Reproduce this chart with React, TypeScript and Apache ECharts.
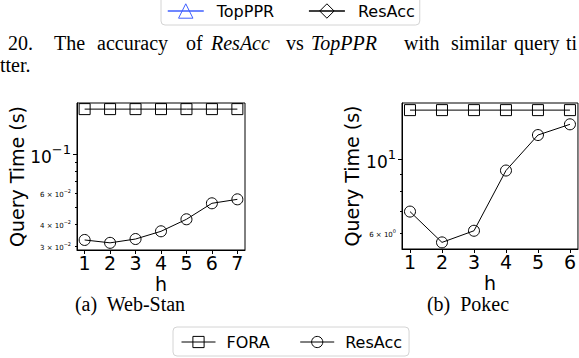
import React, { useEffect, useRef } from 'react';
import * as echarts from 'echarts';

// ---- data ----
const hWebStan = [1, 2, 3, 4, 5, 6, 7];
const webStanFORA = [0.18, 0.18, 0.18, 0.18, 0.18, 0.18, 0.18];
const webStanResAcc = [0.0325, 0.0313, 0.0329, 0.0364, 0.0426, 0.0525, 0.0553];

const hPokec = [1, 2, 3, 4, 5, 6];
const pokecFORA = [14.0, 14.0, 14.0, 14.0, 14.0, 14.0];
const pokecResAcc = [6.98, 5.65, 6.12, 9.25, 11.8, 12.7];

// tick labels
const webStanLabelValues = [0.03, 0.04, 0.06, 0.1];
const webStanLabelBases = ['3 × 10', '4 × 10', '6 × 10', '10'];
const webStanLabelExps = ['−2', '−2', '−2', '−1'];
const webStanMajor = [0.1];
const webStanMinor = [0.03, 0.04, 0.05, 0.06, 0.07, 0.08, 0.09];

const pokecLabelValues = [6, 10];
const pokecLabelBases = ['6 × 10', '10'];
const pokecLabelExps = ['0', '1'];
const pokecMajor = [10];
const pokecMinor = [6, 7, 8, 9];

const captionWords = [
  { t: '20.', x: 8, it: false },
  { t: 'The', x: 54, it: false },
  { t: 'accuracy', x: 97, it: false },
  { t: 'of', x: 186, it: false },
  { t: 'ResAcc', x: 211, it: true },
  { t: 'vs', x: 286, it: false },
  { t: 'TopPPR', x: 311, it: true },
  { t: 'with', x: 404, it: false },
  { t: 'similar', x: 451, it: false },
  { t: 'query', x: 514, it: false },
  { t: 'ti', x: 566, it: false },
];

const SANS = 'DejaVu Sans';
const SERIF = 'Liberation Serif';

function makeFormatter(values: number[], bases: string[], exps: string[], majorVals: number[]) {
  return (v: number) => {
    const i = values.findIndex((x) => Math.abs(x - v) / x < 1e-6);
    if (i < 0) return '';
    const major = majorVals.some((m) => Math.abs(m - v) / m < 1e-6);
    return major ? `{b|${bases[i]}}{bs|${exps[i]}}` : `{m|${bases[i]}}{ms|${exps[i]}}`;
  };
}

const richLabels = {
  b: { fontSize: 17, fontFamily: SANS, color: '#000', verticalAlign: 'bottom', lineHeight: 22 },
  bs: { fontSize: 13, fontFamily: SANS, color: '#000', verticalAlign: 'top', lineHeight: 22 },
  m: { fontSize: 7, fontFamily: SANS, color: '#000', verticalAlign: 'bottom', lineHeight: 10 },
  ms: { fontSize: 5, fontFamily: SANS, color: '#000', verticalAlign: 'top', lineHeight: 10 },
};

function majorY(gridIndex: number, min: number, max: number, labelVals: number[], bases: string[], exps: string[], majors: number[], nameGap: number) {
  return {
    type: 'log',
    logBase: 10,
    gridIndex,
    min,
    max,
    position: 'left',
    name: 'Query Time (s)',
    nameLocation: 'middle',
    nameGap,
    nameRotate: 90,
    nameTextStyle: { fontSize: 19, fontFamily: SANS, color: '#000' },
    axisLine: { show: true, lineStyle: { color: '#000', width: 1 } },
    axisTick: { show: true, customValues: majors, length: 4, lineStyle: { color: '#000' } },
    axisLabel: {
      show: true,
      customValues: labelVals,
      margin: 6,
      formatter: makeFormatter(labelVals, bases, exps, majors),
      rich: richLabels,
    },
    splitLine: { show: false },
    minorTick: { show: false },
  };
}

function minorY(gridIndex: number, min: number, max: number, minors: number[]) {
  return {
    type: 'log',
    logBase: 10,
    gridIndex,
    min,
    max,
    position: 'left',
    axisLine: { show: false },
    axisTick: { show: true, customValues: minors, length: 2, lineStyle: { color: '#000' } },
    axisLabel: { show: false },
    splitLine: { show: false },
  };
}

function xAxis(gridIndex: number, min: number, max: number, vals: number[]) {
  return {
    type: 'value',
    gridIndex,
    min,
    max,
    name: 'h',
    nameLocation: 'middle',
    nameGap: 24,
    nameTextStyle: { fontSize: 19, fontFamily: SANS, color: '#000' },
    axisLine: { show: true, onZero: false, lineStyle: { color: '#000', width: 1 } },
    axisTick: { show: true, customValues: vals, length: 4, lineStyle: { color: '#000' } },
    axisLabel: { show: true, customValues: vals, margin: 3, fontSize: 19, fontFamily: SANS, color: '#000' },
    splitLine: { show: false },
  };
}

const symStyle = {
  color: 'rgba(0,0,0,0)',
  borderColor: '#000',
  borderWidth: 1,
};

function lineSeries(name: string, xi: number, yi: number, xs: number[], ys: number[], symbol: string) {
  return {
    name,
    type: 'line',
    xAxisIndex: xi,
    yAxisIndex: yi,
    data: xs.map((x, i) => [x, ys[i]]),
    symbol,
    symbolSize: 11,
    showSymbol: true,
    lineStyle: { color: '#000', width: 1 },
    itemStyle: symStyle,
    z: 3,
  };
}

export default function App() {
  const ref = useRef<HTMLDivElement>(null);
  useEffect(() => {
    if (!ref.current) return;
    const chart = echarts.init(ref.current, undefined, { renderer: 'svg' });
    const option: any = {
      animation: false,
      backgroundColor: '#fff',
      grid: [
        { left: 77, top: 103, width: 168, height: 147, show: true, borderColor: '#000', borderWidth: 1, containLabel: false },
        { left: 402, top: 103, width: 180, height: 146, show: true, borderColor: '#000', borderWidth: 1, containLabel: false },
      ],
      xAxis: [xAxis(0, 0.7, 7.3, hWebStan), xAxis(1, 0.75, 6.25, hPokec)],
      yAxis: [
        majorY(0, 0.0285, 0.195, webStanLabelValues, webStanLabelBases, webStanLabelExps, webStanMajor, 51),
        minorY(0, 0.0285, 0.195, webStanMinor),
        majorY(1, 5.4, 14.7, pokecLabelValues, pokecLabelBases, pokecLabelExps, pokecMajor, 41),
        minorY(1, 5.4, 14.7, pokecMinor),
      ],
      legend: [
        {
          left: 161,
          top: -6,
          orient: 'horizontal',
          padding: [9, 5, 6, 6],
          itemGap: 34,
          itemWidth: 36,
          itemHeight: 18,
          borderColor: '#d4d4d4',
          borderWidth: 1,
          borderRadius: 4,
          backgroundColor: '#fff',
          textStyle: { fontSize: 16, fontFamily: SANS, color: '#000', padding: [0, 0, 0, 8] },
          formatter: (n: string) => (n === 'ResAcc-top' ? 'ResAcc' : n),
          selectedMode: false,
          data: [
            { name: 'TopPPR', itemStyle: { color: 'rgba(0,0,0,0)', borderColor: '#3f5fff', borderWidth: 1 }, lineStyle: { color: '#3f5fff', width: 1.5 } },
            { name: 'ResAcc-top', itemStyle: { color: 'rgba(0,0,0,0)', borderColor: '#000', borderWidth: 1 }, lineStyle: { color: '#000', width: 1.5 } },
          ],
        },
        {
          left: 173,
          top: 327,
          orient: 'horizontal',
          padding: [7, 7, 6, 8],
          itemGap: 30,
          itemWidth: 34,
          itemHeight: 14,
          borderColor: '#d4d4d4',
          borderWidth: 1,
          borderRadius: 4,
          backgroundColor: '#fff',
          textStyle: { fontSize: 16, fontFamily: SANS, color: '#000', padding: [0, 0, 0, 6] },
          selectedMode: false,
          data: [
            { name: 'FORA', itemStyle: { color: 'rgba(0,0,0,0)', borderColor: '#000', borderWidth: 1 }, lineStyle: { color: '#000', width: 1 } },
            { name: 'ResAcc', itemStyle: { color: 'rgba(0,0,0,0)', borderColor: '#000', borderWidth: 1 }, lineStyle: { color: '#000', width: 1 } },
          ],
        },
      ],
      series: [
        lineSeries('FORA', 0, 0, hWebStan, webStanFORA, 'rect'),
        lineSeries('ResAcc', 0, 0, hWebStan, webStanResAcc, 'circle'),
        lineSeries('FORA', 1, 2, hPokec, pokecFORA, 'rect'),
        lineSeries('ResAcc', 1, 2, hPokec, pokecResAcc, 'circle'),
        { name: 'TopPPR', type: 'line', xAxisIndex: 0, yAxisIndex: 0, data: [], symbol: 'triangle', lineStyle: { color: '#3f5fff' }, itemStyle: { color: 'rgba(0,0,0,0)', borderColor: '#3f5fff' } },
        { name: 'ResAcc-top', type: 'line', xAxisIndex: 0, yAxisIndex: 0, data: [], symbol: 'diamond', lineStyle: { color: '#000' }, itemStyle: { color: 'rgba(0,0,0,0)', borderColor: '#000' } },
      ],
      graphic: [
        ...captionWords.map((w) => ({
          type: 'text',
          x: w.x,
          y: 43,
          style: {
            text: w.t,
            font: `${w.it ? 'italic ' : ''}20px "${SERIF}"`,
            fill: '#000',
            verticalAlign: 'middle',
            align: 'left',
          },
        })),
        {
          type: 'text',
          x: 0,
          y: 65,
          style: { text: 'tter.', font: `20px "${SERIF}"`, fill: '#000', verticalAlign: 'middle', align: 'left' },
        },
        {
          type: 'text',
          x: 130,
          y: 304,
          style: { text: '(a)  Web-Stan', font: `20px "${SERIF}"`, fill: '#000', verticalAlign: 'middle', align: 'center' },
        },
        {
          type: 'text',
          x: 468,
          y: 304,
          style: { text: '(b)  Pokec', font: `20px "${SERIF}"`, fill: '#000', verticalAlign: 'middle', align: 'center' },
        },
      ],
    };
    chart.setOption(option);
    return () => chart.dispose();
  }, []);
  return <div ref={ref} style={{ position: 'absolute', left: 0, top: 0, width: 579, height: 358 }} />;
}
